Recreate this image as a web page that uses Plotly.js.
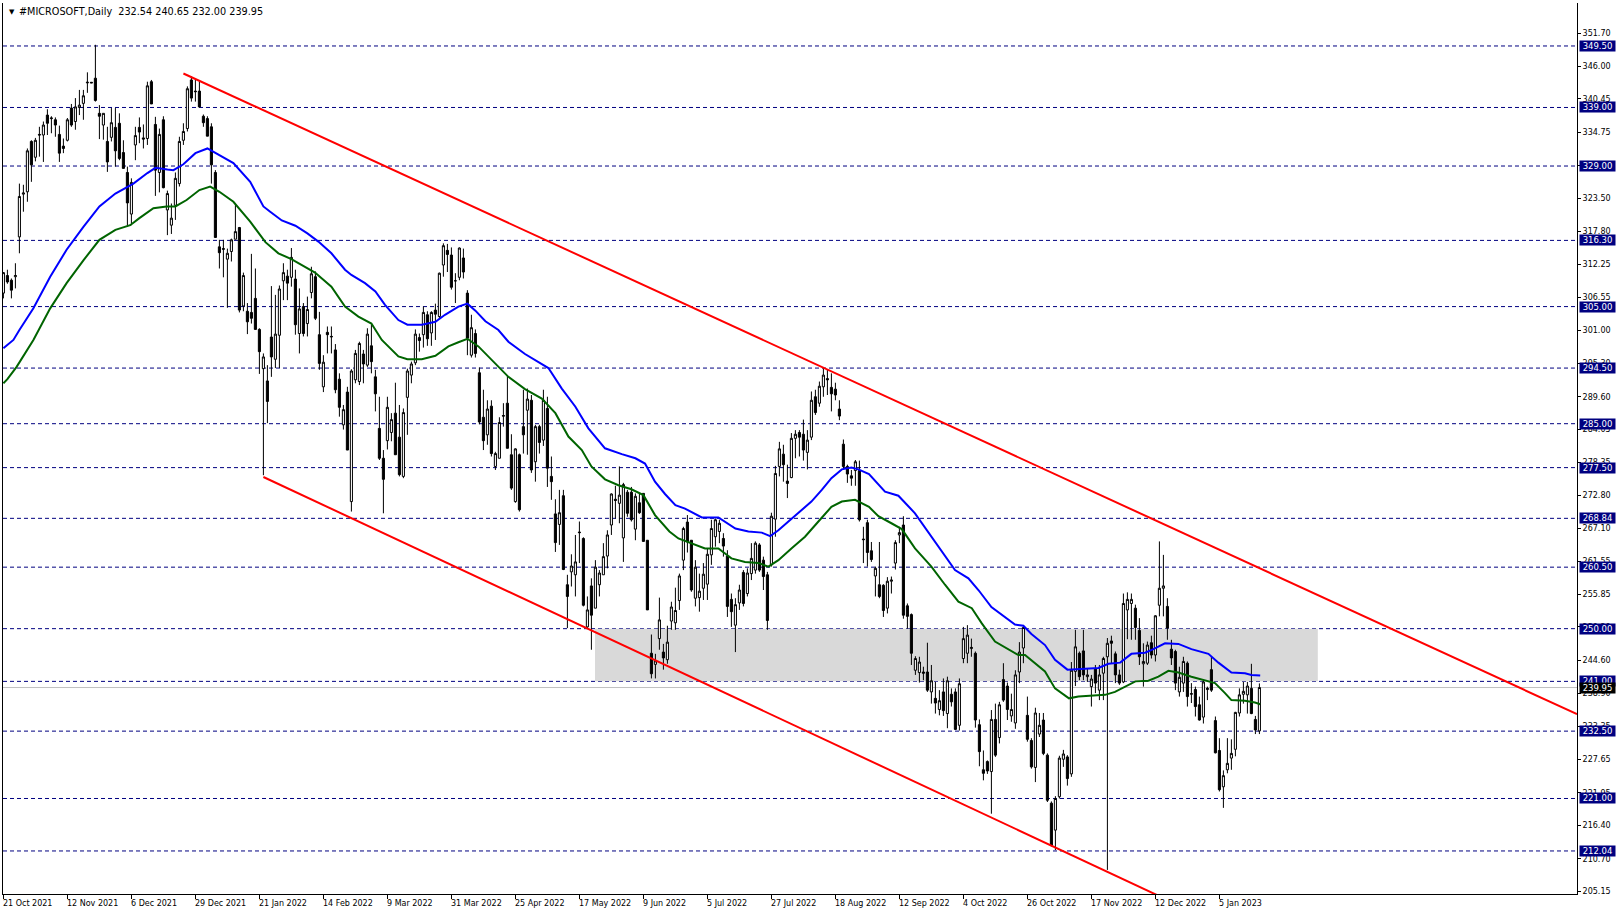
<!DOCTYPE html>
<html><head><meta charset="utf-8">
<script src="https://cdn.plot.ly/plotly-3.0.1.min.js"></script>
<style>html,body{margin:0;padding:0;background:#fff;overflow:hidden}#chart{width:1618px;height:915px}</style>
</head><body><div id="chart"></div>
<script>
const symbolTitle = '#MICROSOFT,Daily  232.54 240.65 232.00 239.95';

const openP = [
307.3,310.3,309.5,310.1,316.9,324.2,324.6,333.2,330.5,334.4,
334.3,337.7,337.1,336.9,334.4,332.4,333.4,338.9,336.6,339.0,
339.7,343.2,343.3,344.0,338.0,336.0,333.2,333.9,335.6,336.3,
331.3,327.9,320.8,332.6,335.6,333.8,333.7,343.4,336.1,327.9,
336.9,321.5,318.9,322.3,326.0,333.4,335.4,343.7,341.8,341.8,
337.5,337.1,335.7,327.9,315.2,314.9,313.1,314.4,316.5,318.5,
305.1,304.2,304.0,306.4,301.1,294.4,292.3,299.8,296.0,300.1,
309.4,310.2,310.0,309.7,300.4,305.0,302.1,307.4,310.1,300.2,
291.3,300.6,299.8,297.6,292.6,284.8,290.4,271.7,292.5,292.2,
296.9,295.0,298.3,293.0,284.2,279.1,282.1,283.5,286.8,282.7,
276.0,289.5,293.3,295.4,299.7,300.2,303.6,300.5,304.4,303.3,
312.1,314.6,313.8,309.4,310.0,313.3,307.3,296.7,300.4,293.7,
286.1,283.1,288.0,277.7,279.1,286.4,288.5,279.7,271.7,279.7,
284.5,287.3,289.0,278.5,284.5,282.2,287.6,276.0,269.6,267.8,
272.7,257.5,259.7,259.2,266.5,265.4,250.3,257.3,253.5,257.5,
259.2,262.4,267.7,272.1,271.4,265.5,273.3,273.3,267.0,271.5,
273.1,265.1,245.8,243.9,248.3,246.0,244.7,251.3,251.0,254.8,
261.7,268.2,265.1,255.2,255.3,256.9,257.6,262.6,265.7,266.6,
265.4,262.4,255.0,250.6,254.4,259.6,256.0,259.4,260.0,264.3,
261.7,259.2,260.9,268.7,277.7,279.8,275.2,275.8,282.5,283.5,
283.2,280.1,282.7,289.6,288.5,291.3,292.7,291.2,290.9,287.5,
281.5,277.7,276.1,277.0,277.0,265.3,268.1,263.3,259.0,257.5,
257.4,253.5,258.1,261.2,266.0,267.7,253.9,252.4,242.9,242.5,
242.6,242.6,239.2,238.1,236.2,239.2,235.5,238.8,239.2,233.5,
244.9,245.8,246.6,245.8,233.6,225.9,227.3,225.6,234.5,231.4,
241.3,240.2,235.1,233.9,242.6,246.7,235.2,230.9,226.3,232.0,
234.4,228.4,220.2,215.6,221.3,227.7,228.1,225.2,242.7,245.8,
246.2,241.8,240.1,243.1,239.5,242.4,245.2,247.9,245.7,242.1,
240.9,253.2,254.3,253.5,249.7,244.0,244.1,247.6,245.5,254.0,
256.9,253.8,246.5,246.1,239.2,240.7,244.1,238.8,239.6,237.0,
234.9,239.6,243.0,234.3,229.2,223.0,225.9,227.9,229.4,235.6,
238.8,238.7,239.8,234.5,232.54];

const highP = [
310.9,311.3,309.8,312.4,326.0,325.8,332.0,333.4,333.8,335.7,
336.6,338.7,337.5,337.3,335.9,333.7,337.2,339.6,340.6,342.0,
342.0,345.0,343.3,349.7,339.4,338.0,335.7,338.9,338.9,338.0,
333.4,328.9,326.9,335.7,337.3,336.1,343.4,343.7,337.4,335.4,
337.5,324.8,322.6,327.9,334.0,336.3,342.6,344.3,343.7,343.4,
337.8,337.5,336.3,328.3,316.4,316.4,314.9,316.6,322.6,318.6,
310.8,305.6,314.0,311.5,301.3,297.0,295.0,308.5,307.0,308.6,
312.4,311.3,315.0,311.3,308.1,305.6,306.7,311.8,311.0,304.1,
296.7,301.6,301.6,298.6,293.6,288.2,291.3,294.3,297.6,299.0,
297.6,301.3,301.9,294.2,289.6,280.5,289.6,286.8,292.0,288.2,
287.6,294.4,295.6,301.1,300.4,305.0,304.2,304.2,305.5,310.8,
315.8,315.7,315.1,310.7,315.1,314.9,307.8,303.6,301.1,294.6,
290.8,289.0,289.0,280.2,286.1,288.5,293.3,283.2,280.8,279.9,
290.8,291.0,289.9,284.8,284.8,290.8,289.6,279.4,272.1,273.7,
273.7,259.2,262.7,266.0,268.3,265.6,255.5,258.6,261.7,260.0,
264.6,266.8,273.1,274.4,277.7,274.9,273.7,274.2,273.1,273.1,
273.1,265.1,249.0,245.7,255.3,247.4,250.5,254.6,257.0,259.4,
267.4,269.4,265.1,261.7,259.4,261.2,263.7,268.6,268.8,268.6,
266.3,263.4,256.0,255.2,257.5,260.0,260.3,264.6,264.9,264.6,
262.3,259.7,269.8,277.8,281.9,281.4,278.0,283.4,283.9,283.9,
285.7,283.9,290.5,290.8,292.2,294.6,294.3,293.6,292.0,289.0,
282.3,278.0,277.1,278.8,278.7,267.4,268.6,264.8,260.6,264.8,
257.6,258.8,258.9,265.1,267.4,269.2,254.3,252.6,245.3,245.2,
243.5,247.6,243.8,240.9,239.5,241.5,241.8,239.8,239.8,241.5,
250.3,250.6,248.3,246.1,234.5,229.2,227.5,236.1,237.2,237.5,
244.1,240.8,238.9,242.9,247.7,250.6,238.4,231.3,236.5,235.6,
235.6,228.7,220.5,221.4,228.3,229.3,228.4,244.3,249.8,246.1,
249.8,243.2,242.1,243.8,243.8,245.2,248.4,248.8,246.1,243.0,
256.0,256.2,256.0,254.1,251.8,247.5,247.8,248.8,252.3,264.9,
262.6,255.2,248.1,246.4,243.5,245.2,244.4,240.7,240.1,238.4,
241.1,240.1,245.2,235.0,231.3,225.8,231.3,231.1,235.8,239.8,
240.9,240.9,244.0,235.1,240.65];

const lowP = [
306.4,308.9,306.4,308.1,314.1,321.2,322.9,326.3,329.8,330.6,
329.7,334.3,334.6,334.0,329.7,331.2,333.2,335.7,335.2,337.7,
336.9,341.5,343.2,340.0,333.6,333.5,328.0,333.2,328.9,330.0,
328.6,318.6,318.9,330.0,332.9,332.0,332.6,339.6,323.9,324.5,
325.2,317.2,317.4,319.8,325.5,332.6,334.9,340.0,340.0,339.0,
335.7,334.1,326.0,316.8,311.5,310.0,304.8,312.7,316.5,304.0,
304.2,300.3,302.1,301.1,293.5,276.2,285.1,293.0,294.5,294.5,
306.1,306.1,308.4,300.2,297.0,299.9,299.9,306.4,302.7,294.2,
290.4,297.0,297.0,290.2,286.2,284.0,280.5,270.0,291.9,291.6,
291.9,294.7,293.6,287.1,278.8,269.7,280.6,282.0,279.7,276.0,
275.7,283.1,291.9,295.0,297.3,298.0,298.3,298.3,299.3,303.0,
310.1,310.9,307.9,305.6,309.5,309.8,296.7,296.3,296.3,284.9,
280.5,281.4,279.4,277.1,279.1,284.5,280.8,273.7,271.5,270.0,
279.9,279.7,276.6,275.1,279.9,281.2,274.2,272.0,263.1,264.3,
260.0,250.1,257.2,255.5,261.2,253.8,250.1,246.4,253.5,255.5,
259.2,260.3,266.0,268.8,268.0,261.4,269.1,268.3,265.1,269.6,
264.9,253.2,241.5,241.5,246.4,243.0,244.0,249.8,249.8,253.2,
260.0,263.0,256.3,253.8,252.9,254.9,254.9,260.9,264.0,264.6,
262.3,252.0,250.3,246.0,253.2,253.8,255.5,258.3,259.4,259.7,
256.6,249.8,260.6,265.7,276.0,275.1,272.3,275.7,279.1,279.4,
278.7,277.2,282.2,286.5,287.9,289.6,289.9,287.1,289.0,285.6,
277.2,274.9,274.4,274.4,268.3,261.2,260.6,261.4,255.5,255.2,
252.0,252.6,256.0,260.1,264.6,251.7,250.0,243.8,242.1,240.8,
241.2,239.2,237.2,235.5,235.2,235.1,233.0,236.7,232.7,232.6,
244.1,244.1,245.2,233.1,226.5,224.1,225.2,218.4,228.1,230.4,
237.5,234.4,234.1,232.9,240.7,244.1,230.7,226.1,223.8,231.5,
228.4,220.4,212.8,212.2,221.0,226.4,223.2,224.7,240.2,241.2,
241.2,240.9,236.7,239.0,237.8,237.8,208.8,244.1,240.7,240.4,
240.7,248.2,248.1,248.1,243.8,240.1,243.8,244.9,244.4,252.1,
252.1,248.1,243.8,239.5,238.4,239.2,236.7,237.3,235.0,234.3,
233.8,237.8,239.2,228.7,222.2,219.4,225.3,225.9,228.2,235.0,
237.2,235.5,235.4,232.0,232.00];

const closeP = [
310.8,309.2,307.8,310.3,323.8,324.4,331.6,329.2,333.4,334.3,
336.0,336.3,337.2,336.0,331.2,332.0,336.9,336.0,339.1,339.4,
341.0,343.3,343.2,340.2,337.5,338.0,329.7,336.4,331.6,330.3,
328.6,322.7,326.2,334.2,334.8,333.6,342.7,339.6,328.3,334.4,
325.3,324.3,320.1,326.9,333.2,334.9,342.2,340.6,341.7,339.1,
336.4,334.1,329.2,316.8,314.2,314.8,314.1,316.4,317.8,304.4,
310.3,302.4,303.0,301.1,297.3,296.4,288.8,296.4,300.3,308.0,
310.8,309.0,313.4,301.9,304.6,300.4,304.5,310.6,303.0,295.3,
295.5,300.2,299.9,290.8,287.8,287.4,280.5,294.0,297.0,298.7,
295.2,300.3,295.6,290.1,279.1,275.5,287.8,285.7,279.7,276.3,
286.9,294.0,295.2,300.3,299.2,304.0,299.5,304.0,303.7,310.7,
315.4,313.9,308.3,309.4,315.0,310.9,299.6,301.4,297.0,285.3,
282.1,287.5,279.9,279.9,285.2,286.3,280.8,274.0,280.7,270.3,
283.1,289.2,277.1,284.5,281.8,289.0,277.4,275.1,264.7,269.8,
260.1,255.5,260.7,261.4,266.4,254.0,253.2,252.3,260.5,259.5,
262.3,266.0,273.0,271.9,272.8,274.6,269.7,268.6,272.6,269.8,
264.9,253.2,242.3,244.5,251.5,245.0,247.7,253.7,253.1,259.0,
267.1,264.8,256.6,260.5,256.4,259.3,262.7,267.1,268.6,268.0,
264.1,253.8,252.9,254.1,256.6,254.3,259.5,262.0,264.6,260.0,
258.9,251.4,269.2,276.5,280.7,278.0,274.8,282.5,283.2,282.7,
280.5,282.2,289.0,286.9,291.4,293.3,292.5,290.1,289.9,286.3,
277.7,276.4,275.7,278.5,268.6,265.2,263.0,261.8,260.3,255.5,
253.1,258.1,258.3,264.7,266.4,252.3,252.1,245.8,244.9,244.3,
242.4,239.5,241.1,237.3,237.7,236.0,241.1,237.5,232.8,240.6,
248.3,248.9,246.8,234.4,229.0,225.3,225.7,234.5,228.4,237.0,
237.8,236.2,236.2,242.1,246.0,250.2,231.1,226.4,235.6,233.5,
228.7,220.7,213.0,221.0,227.9,228.6,224.4,242.9,246.9,241.8,
242.1,242.1,241.4,240.7,242.1,244.9,247.5,247.5,242.1,240.7,
254.3,255.0,255.0,250.2,245.2,244.4,247.2,245.5,252.2,256.9,
257.3,250.1,245.0,240.7,241.7,244.4,238.4,238.9,236.7,234.4,
240.9,239.8,239.5,228.8,222.5,224.9,227.0,228.7,235.7,238.7,
239.3,240.2,235.5,232.7,239.95];

// moving averages (bar index, price)
const blueBars = [0,2.5,4,7.5,11.7,15.8,20,24,28,32.5,36,38,41,42.5,45,48,51,53,57.5,61.7,65,66.7,69.6,73,76,78.75,82,85.4,87,90.4,93,95.4,98.75,101,104.6,108,110.4,113.75,116,118,120.5,123.75,126.25,130.4,133,136.25,139.6,143,146.25,150.4,154.6,158,160.4,162.9,165.4,168,170.4,174.6,178.75,183,186.25,189.6,191.7,193.75,196.25,199.6,202,204.6,207,209.6,212,213.75,216.4,220.4,223.75,227.9,232,235.4,237.9,241.25,243.75,247,250.4,252.9,255,257,260.4,262.9,266,268,270.4,273.75,276.25,279.2,282,285.4,287.5,290.4,293.75,297,301.25,303.75,307,310.4,312,314.2];
const blueVals = [297.9,299.3,301.0,304.7,310.1,314.7,318.6,322.1,324.3,326.0,327.8,328.7,328.4,328.3,329.3,331.2,332.0,331.2,329.5,326.3,322.1,321.2,319.7,318.8,317.5,316.1,314.1,311.3,310.4,309.0,307.6,305.3,302.7,301.9,301.9,302.4,303.6,305.0,305.5,304.3,302.5,301.0,299.0,296.9,295.8,294.5,291.0,287.9,284.2,280.8,279.8,279.1,278.2,275.1,273.0,271.1,270.5,269.0,269.0,267.1,266.6,266.4,265.8,266.8,268.3,270.3,271.7,273.7,275.7,277.2,277.5,277.2,276.4,273.4,272.7,269.7,265.7,262.3,260.0,258.6,256.6,253.7,251.9,250.7,250.5,249.1,247.2,244.7,243.0,243.1,243.2,243.3,244.0,244.2,245.7,245.9,246.5,247.5,247.4,246.5,245.7,244.2,242.5,242.4,242.1,242.0];
const greenBars = [0,1,3.3,7.5,11.7,15.8,20,24,28,31.7,34,37.5,40.8,43,45.8,49,51.7,54,57.5,61.7,65.5,68.75,72,75.4,77.9,82,85.4,88.75,92,94.6,98.75,101,104.6,108,111.25,113.75,116,118.75,122.9,126.25,130.4,134.6,138,141.25,144.6,147,150.4,153.75,157,160,162.9,165.5,166.5,168.75,172,175.4,178.75,182,185.4,188.75,191.25,193.75,197,200.4,203.75,207,209.6,212.9,216.4,218.75,222,224.6,227.9,232,235.4,238.75,242.1,244.6,247.9,251.25,253.75,255.4,257.9,260.4,262.9,266.4,268.75,272,275.4,277.9,280.4,283,286.25,288.75,291.25,293.75,297,300.4,302.9,305.4,307,310.4,312.9,314.2];
const greenVals = [291.9,292.6,294.7,299.3,304.7,309.0,312.9,316.4,318.1,318.9,320.1,321.8,322.1,322.1,323.2,324.9,325.5,324.6,322.9,319.5,316.0,314.1,313.1,311.8,310.8,308.4,305.0,303.3,302.1,299.3,296.5,296.0,296.0,296.6,298.2,298.9,299.5,298.2,295.3,293.0,290.9,289.3,286.8,282.8,280.5,277.7,275.5,274.5,273.8,272.8,269.4,267.5,266.6,265.4,264.6,263.7,263.7,262.0,261.4,261.2,260.6,261.7,263.7,265.7,268.3,270.8,271.7,272.0,270.8,269.2,268.0,267.0,263.7,260.6,257.5,254.6,253.5,250.9,247.8,246.4,245.5,245.5,244.1,242.7,239.8,238.1,238.4,238.5,238.7,239.2,240.1,241.0,241.1,241.8,242.8,242.5,241.8,241.2,240.7,239.0,237.8,237.7,237.4,237.1];

// trend channel (bar index, price)
const upperBars = [45, 393.4];
const upperPrices = [344.8, 235.4];
const lowerBars = [65, 290];
const lowerPrices = [275.9, 204.0];

// support / resistance zone
const zoneBars = [147.9, 328.6];
const zonePrices = [241.0, 250.0];

const levels = [349.50,339.00,329.00,316.30,305.00,294.50,285.00,277.50,268.84,260.50,250.00,241.00,232.50,221.00,212.04];
const lastPrice = 239.95;

const yTickVals = [351.70,346.00,340.45,334.75,329.05,323.50,317.80,312.25,306.55,301.00,295.30,289.60,284.05,278.35,272.80,267.10,261.55,255.85,250.30,244.60,238.90,233.35,227.65,221.95,216.40,210.70,205.15];
const xTickBars = [0,16,32,48,64,80,96,112,128,144,160,176,192,208,224,240,256,272,288,304];
const xTickLabels = ['21 Oct 2021','12 Nov 2021','6 Dec 2021','29 Dec 2021','21 Jan 2022','14 Feb 2022','9 Mar 2022','31 Mar 2022','25 Apr 2022','17 May 2022','9 Jun 2022','5 Jul 2022','27 Jul 2022','18 Aug 2022','12 Sep 2022','4 Oct 2022','26 Oct 2022','17 Nov 2022','12 Dec 2022','5 Jan 2023'];

const FONT = 'DejaVu Sans, Verdana, sans-serif';
const barIdx = openP.map((_, i) => i);

const traces = [
  {type:'candlestick', x: barIdx, open: openP, high: highP, low: lowP, close: closeP,
   increasing:{line:{color:'#000000', width:1}, fillcolor:'#ffffff'},
   decreasing:{line:{color:'#000000', width:1}, fillcolor:'#000000'},
   whiskerwidth:0, hoverinfo:'skip', showlegend:false},
  {type:'scatter', mode:'lines', x: greenBars, y: greenVals, line:{color:'#006400', width:2}, hoverinfo:'skip', showlegend:false},
  {type:'scatter', mode:'lines', x: blueBars, y: blueVals, line:{color:'#0000ff', width:2}, hoverinfo:'skip', showlegend:false},
  {type:'scatter', mode:'lines', x: upperBars, y: upperPrices, line:{color:'#ff0000', width:2}, hoverinfo:'skip', showlegend:false},
  {type:'scatter', mode:'lines', x: lowerBars, y: lowerPrices, line:{color:'#ff0000', width:2}, hoverinfo:'skip', showlegend:false}
];

const shapes = [
  {type:'rect', layer:'below', xref:'x', yref:'y', x0: zoneBars[0], x1: zoneBars[1], y0: zonePrices[0], y1: zonePrices[1], fillcolor:'#d9d9d9', line:{width:0}}
];
levels.forEach(v => shapes.push({type:'line', layer:'below', xref:'paper', yref:'y', x0:0, x1:1, y0:v, y1:v, line:{color:'#000080', width:1, dash:'4px,3px'}}));
shapes.push({type:'line', layer:'below', xref:'paper', yref:'y', x0:0, x1:1, y0:lastPrice, y1:lastPrice, line:{color:'#c0c0c0', width:1}});

const annotations = [];
levels.forEach(v => annotations.push({xref:'paper', yref:'y', x:1, y:v, xanchor:'left', yanchor:'middle', xshift:2, text: v.toFixed(2), showarrow:false, bgcolor:'#000080', font:{family:FONT, size:8.5, color:'#ffffff'}, borderpad:0, width:35, height:10}));
annotations.push({xref:'paper', yref:'y', x:1, y:lastPrice, xanchor:'left', yanchor:'middle', xshift:2, text:lastPrice.toFixed(2), showarrow:false, bgcolor:'#000000', font:{family:FONT, size:8.5, color:'#ffffff'}, borderpad:0, width:35, height:10});
xTickBars.forEach((b, i) => annotations.push({xref:'x', yref:'paper', x:b, y:0, xanchor:'left', yanchor:'top', yshift:-3, xshift:-2, text:xTickLabels[i], showarrow:false, font:{family:FONT, size:8, color:'#000000'}}));
annotations.push({xref:'paper', yref:'paper', x:0, y:1, xanchor:'left', yanchor:'top', xshift:4, yshift:-3, text:'▼', showarrow:false, font:{family:FONT, size:7, color:'#000000'}});
annotations.push({xref:'paper', yref:'paper', x:0, y:1, xanchor:'left', yanchor:'top', xshift:14, yshift:-1, text:symbolTitle, showarrow:false, font:{family:FONT, size:9.7, color:'#000000'}});

const layout = {
  width:1618, height:915,
  margin:{l:3, r:41, t:3, b:21, pad:0},
  paper_bgcolor:'#ffffff', plot_bgcolor:'#ffffff',
  showlegend:false, hovermode:false, dragmode:false,
  boxgap:0.25,
  xaxis:{type:'linear', range:[-0.1, 393.4], showgrid:false, zeroline:false, showline:true, linecolor:'#000000', linewidth:1,
         ticks:'outside', ticklen:4, tickcolor:'#000000', tickvals:xTickBars, showticklabels:false, rangeslider:{visible:false}, fixedrange:true},
  yaxis:{side:'right', range:[204.69, 356.84], showgrid:false, zeroline:false, showline:true, mirror:true, linecolor:'#000000', linewidth:1,
         ticks:'outside', ticklen:3, tickcolor:'#000000', tickvals:yTickVals, ticktext:yTickVals.map(v => v.toFixed(2)),
         tickfont:{family:FONT, size:8, color:'#000000'}, fixedrange:true},
  shapes: shapes,
  annotations: annotations
};

Plotly.newPlot('chart', traces, layout, {displayModeBar:false, staticPlot:true});
</script>
</body></html>
